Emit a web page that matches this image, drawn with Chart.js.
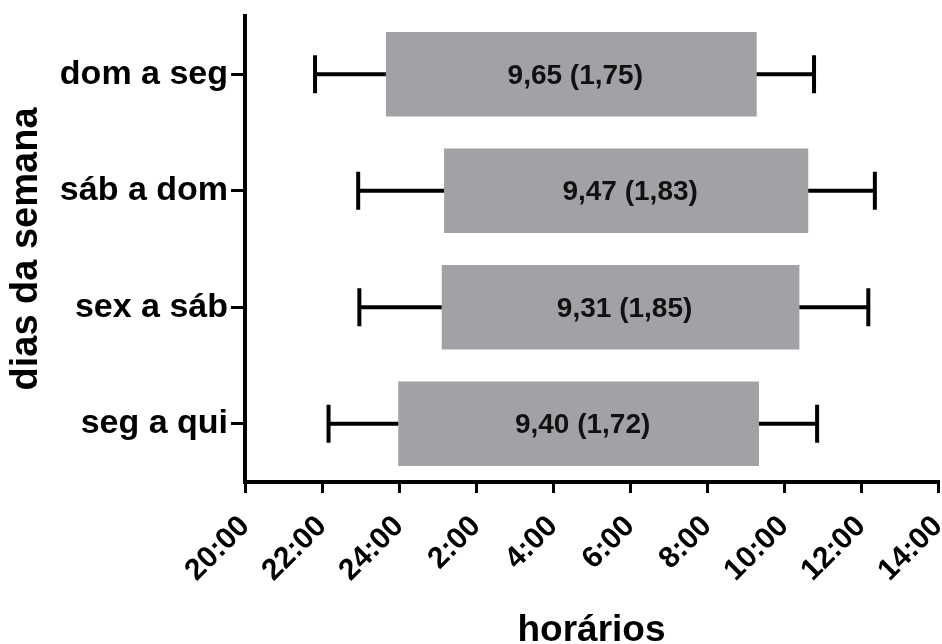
<!DOCTYPE html>
<html>
<head>
<meta charset="utf-8">
<script src="https://cdn.jsdelivr.net/npm/chart.js@4/dist/chart.umd.min.js"></script>
<style>
  html, body { margin: 0; padding: 0; background: #ffffff; }
  #c { display: block; }
</style>
</head>
<body>
<canvas id="c" width="942" height="644"></canvas>
<script>
// ---- data (hours counted on a continuous clock: 24 = midnight, 26 = 2:00 next day) ----
const categories = ['dom a seg', 'sáb a dom', 'sex a sáb', 'seg a qui'];
const startHours = [23.66, 25.17, 25.11, 23.98];
const endHours   = [33.29, 34.63, 34.40, 33.35];
const errLeft    = [1.84, 2.23, 2.14, 1.81];
const errRight   = [1.49, 1.73, 1.79, 1.51];
const barLabels  = ['9,65 (1,75)', '9,47 (1,83)', '9,31 (1,85)', '9,40 (1,72)'];
const tickValues = [20, 22, 24, 26, 28, 30, 32, 34, 36, 38];
const tickLabels = ['20:00', '22:00', '24:00', '2:00', '4:00', '6:00', '8:00', '10:00', '12:00', '14:00'];

const FONT = "'Liberation Sans', Arial, Helvetica, sans-serif";
const barData = categories.map((c, i) => [startHours[i], endHours[i]]);

const errorBarPlugin = {
  id: 'errorBars',
  afterDatasetsDraw(chart) {
    const ctx = chart.ctx;
    const xs = chart.scales.x, ys = chart.scales.y;
    ctx.save();
    ctx.strokeStyle = '#000';
    ctx.lineWidth = 4;
    ctx.lineCap = 'butt';
    const capHalf = 19;
    categories.forEach((c, i) => {
      const y = ys.getPixelForValue(i);
      const x0 = xs.getPixelForValue(startHours[i]);
      const x1 = xs.getPixelForValue(endHours[i]);
      const xl = xs.getPixelForValue(startHours[i] - errLeft[i]);
      const xr = xs.getPixelForValue(endHours[i] + errRight[i]);
      ctx.beginPath();
      ctx.moveTo(x0, y); ctx.lineTo(xl, y);
      ctx.moveTo(xl, y - capHalf); ctx.lineTo(xl, y + capHalf);
      ctx.moveTo(x1, y); ctx.lineTo(xr, y);
      ctx.moveTo(xr, y - capHalf); ctx.lineTo(xr, y + capHalf);
      ctx.stroke();
      // value label in the bar
      ctx.fillStyle = '#111';
      ctx.font = 'bold 28px ' + FONT;
      ctx.textAlign = 'center';
      ctx.textBaseline = 'middle';
      ctx.fillText(barLabels[i], (x0 + x1) / 2 + 4, y + 2);
    });
    ctx.restore();
  }
};

new Chart(document.getElementById('c'), {
  type: 'bar',
  data: {
    labels: categories,
    datasets: [{
      data: barData,
      backgroundColor: '#a2a1a6',
      borderWidth: 0,
      borderSkipped: false,
      barPercentage: 0.725,
      categoryPercentage: 1.0
    }]
  },
  options: {
    indexAxis: 'y',
    responsive: false,
    animation: false,
    devicePixelRatio: 1,
    layout: { padding: { left: 0, right: 4, top: 16, bottom: 0 } },
    plugins: { legend: { display: false }, tooltip: { enabled: false } },
    scales: {
      x: {
        type: 'linear',
        min: 20, max: 38,
        afterBuildTicks(scale) { scale.ticks = tickValues.map(v => ({ value: v })); },
        afterFit(scale) { scale.height = 162; scale.paddingLeft = 0; scale.paddingRight = 0; },
        border: { display: true, color: '#000', width: 4 },
        grid: { display: true, drawOnChartArea: false, drawTicks: true, tickLength: 11, color: '#000', lineWidth: 3 },
        ticks: {
          autoSkip: false,
          minRotation: 45, maxRotation: 45,
          color: '#000',
          padding: 16,
          font: { family: FONT, size: 30, weight: 'bold' },
          callback(v) { const k = tickValues.indexOf(v); return k >= 0 ? tickLabels[k] : ''; }
        },
        title: {
          display: true, text: 'horários', color: '#000',
          font: { family: FONT, size: 37, weight: 'bold', lineHeight: 1 },
          padding: { top: 0, bottom: -5 }
        }
      },
      y: {
        type: 'category',
        offset: true,
        afterFit(scale) { scale.width = 245; scale.paddingTop = 0; scale.paddingBottom = 0; },
        border: { display: true, color: '#000', width: 4 },
        grid: { display: true, offset: false, drawOnChartArea: false, drawTicks: true, tickLength: 14, color: '#000', lineWidth: 3 },
        ticks: {
          color: '#000',
          padding: 3,
          font: { family: FONT, size: 34, weight: 'bold' }
        },
        title: {
          display: true, text: 'dias da semana', color: '#000',
          font: { family: FONT, size: 38, weight: 'bold', lineHeight: 1 },
          padding: { top: 8, bottom: 0 }
        }
      }
    }
  },
  plugins: [errorBarPlugin]
});
</script>
</body>
</html>
